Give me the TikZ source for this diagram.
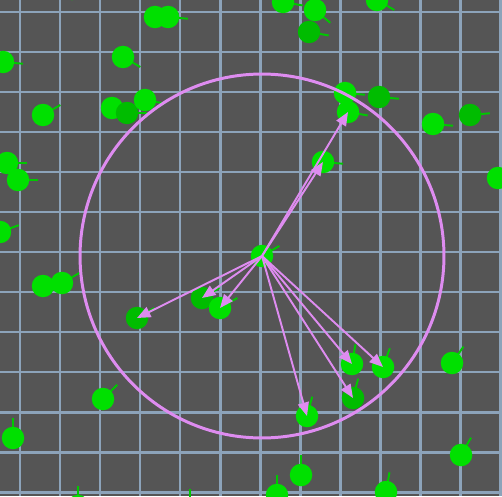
\documentclass[tikz,border=0pt]{standalone}
\usepackage{tikz}
\usetikzlibrary{arrows.meta}
\definecolor{fundoCinza}{RGB}{85,85,85}
\definecolor{gradeAzul}{RGB}{140,163,186}
\definecolor{verdeAgente}{RGB}{0,224,0}
\definecolor{verdeEscuro}{RGB}{0,188,0}
\definecolor{verdeRumo}{RGB}{0,200,0}
\definecolor{violetaRaio}{RGB}{222,140,240}
\tikzset{
  grade/.style={gradeAzul, line width=1.7pt},
  agente/.style={circle, fill=verdeAgente, inner sep=0pt, minimum size=0.45cm},
  agenteescuro/.style={circle, fill=verdeEscuro, inner sep=0pt, minimum size=0.45cm},
  rumo/.style={verdeRumo, line width=1.1pt},
  alcance/.style={circle, draw=violetaRaio, line width=1.7pt, inner sep=0pt,
                  minimum size=7.28cm},
  vizinho/.style={-{Triangle[length=0.27cm,width=0.22cm]}, violetaRaio, line width=1.1pt},
}
% agent: name, x, y, heading (deg), style
\newcommand{\agente}[5]{%
  \draw[rumo] (#2,#3) -- ++(#4:0.4cm);
  \node[#5] (#1) at (#2,#3) {};}

\begin{document}
\begin{tikzpicture}[x=0.02cm, y=-0.02cm]
  \fill[fundoCinza] (0,0) rectangle (502,496);
  \useasboundingbox (0,0) rectangle (502,496);
  \begin{scope}
  \clip (0,0) rectangle (502,496);
  % grid
  \foreach \x in {20,60,...,500} \draw[grade] (\x,0) -- (\x,496);
  \foreach \y in {12,52,...,492} \draw[grade] (0,\y) -- (502,\y);
  % agents, upper half
  \agente{a1}{155}{17}{0}{agente}
  \agente{a2}{168}{17}{-5}{agente}
  \agente{a3}{123}{57}{-30}{agente}
  \agente{a4}{3}{62}{-5}{agente}
  \agente{a5}{43}{115}{30}{agente}
  \agente{a6}{112}{108}{0}{agente}
  \agente{a7}{127}{113}{0}{agenteescuro}
  \agente{a8}{145}{100}{-10}{agente}
  \agente{a9}{7}{163}{0}{agente}
  \agente{a10}{18}{180}{0}{agente}
  \agente{a11}{0}{232}{20}{agente}
  \agente{a12}{72}{-11}{-20}{agente}
  \agente{a13}{283}{2}{-10}{agente}
  \agente{a14}{315}{10}{-40}{agente}
  \agente{a15}{309}{32}{-10}{agenteescuro}
  \agente{a16}{377}{0}{-30}{agente}
  \agente{a17}{345}{93}{-5}{agente}
  \agente{a18}{348}{112}{-10}{agente}
  \agente{a19}{379}{97}{-5}{agenteescuro}
  \agente{a20}{433}{124}{-5}{agente}
  \agente{a21}{470}{115}{5}{agenteescuro}
  \agente{a22}{498}{178}{0}{agente}
  \agente{a23}{323}{162}{-5}{agente}
  % agents, lower left
  \agente{b1}{43}{286}{30}{agente}
  \agente{b2}{62}{283}{30}{agente}
  \agente{b3}{137}{318}{30}{agenteescuro}
  \agente{b4}{202}{298}{30}{agenteescuro}
  \agente{b5}{220}{308}{30}{agente}
  \agente{b6}{103}{399}{45}{agente}
  \agente{b7}{13}{438}{90}{agente}
  \agente{b8}{78}{506}{90}{agente}
  \agente{b9}{190}{509}{90}{agente}
  % agents, lower right
  \agente{c1}{352}{364}{80}{agente}
  \agente{c2}{383}{367}{70}{agente}
  \agente{c3}{353}{398}{75}{agenteescuro}
  \agente{c4}{307}{416}{75}{agente}
  \agente{c5}{452}{363}{55}{agente}
  \agente{c6}{461}{455}{60}{agente}
  \agente{c7}{301}{475}{90}{agente}
  \agente{c8}{277}{495}{90}{agente}
  \agente{c9}{386}{492}{80}{agente}
  % focal agent and its range
  \agente{centro}{262}{256}{30}{agente}
  \node[alcance] (raio) at (centro) {};
  \foreach \n in {a18,a23,b3,b4,b5,c1,c2,c3,c4}
    \draw[vizinho] (centro.center) -- (\n.center);
  \end{scope}
\end{tikzpicture}
\end{document}
